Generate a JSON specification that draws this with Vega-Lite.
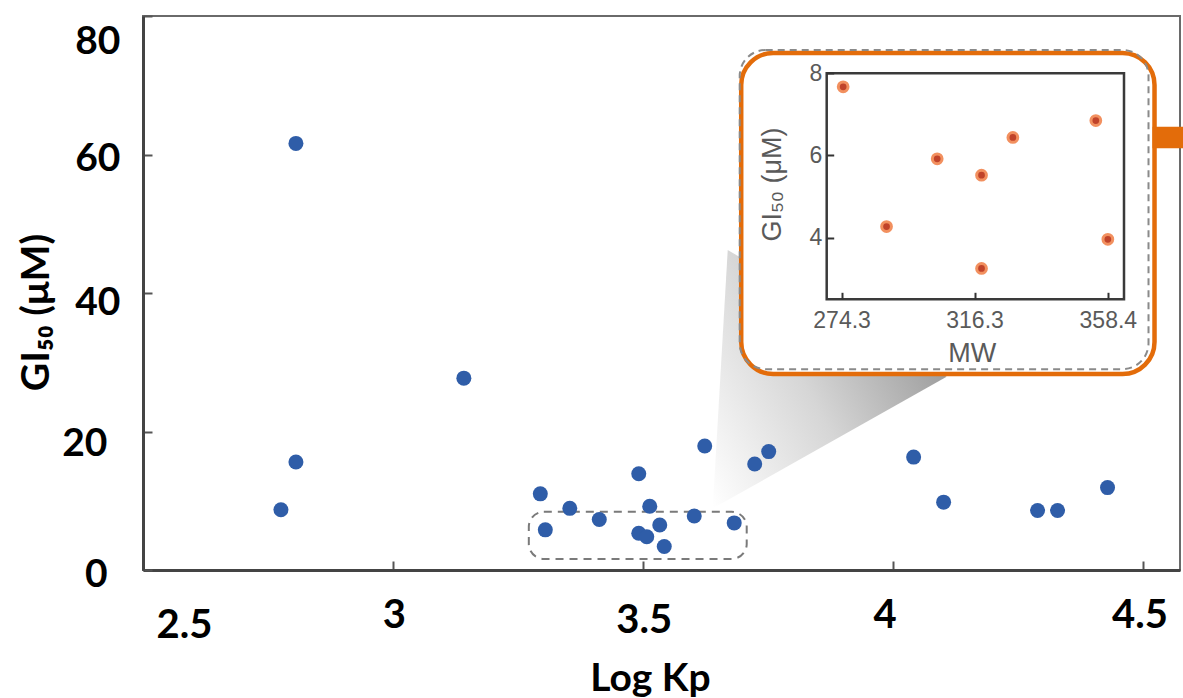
{
  "$schema": "https://vega.github.io/schema/vega-lite/v6.json",
  "width": 1037,
  "height": 554,
  "autosize": "none",
  "padding": {"left": 143, "top": 16, "right": 3, "bottom": 128},
  "background": "white",
  "config": {"view": {"stroke": "#6a6a6a", "strokeWidth": 2}, "axis": {"grid": false}},
  "datasets": {
    "main": [
      {"kp": 2.776, "gi": 8.7}, {"kp": 2.806, "gi": 61.6}, {"kp": 2.806, "gi": 15.6},
      {"kp": 3.142, "gi": 27.7}, {"kp": 3.295, "gi": 11.0}, {"kp": 3.305, "gi": 5.8},
      {"kp": 3.354, "gi": 8.9}, {"kp": 3.413, "gi": 7.3}, {"kp": 3.492, "gi": 13.9},
      {"kp": 3.514, "gi": 9.2}, {"kp": 3.492, "gi": 5.3}, {"kp": 3.508, "gi": 4.8},
      {"kp": 3.534, "gi": 6.5}, {"kp": 3.543, "gi": 3.4}, {"kp": 3.603, "gi": 7.8},
      {"kp": 3.683, "gi": 6.8}, {"kp": 3.624, "gi": 17.9}, {"kp": 3.724, "gi": 15.3},
      {"kp": 3.752, "gi": 17.1}, {"kp": 4.042, "gi": 16.3}, {"kp": 4.102, "gi": 9.8},
      {"kp": 4.290, "gi": 8.6}, {"kp": 4.330, "gi": 8.6}, {"kp": 4.430, "gi": 11.9}
    ],
    "inset": [
      {"mw": 274.8, "gi": 7.67}, {"mw": 288.5, "gi": 4.27}, {"mw": 304.5, "gi": 5.92},
      {"mw": 318.5, "gi": 5.52}, {"mw": 318.5, "gi": 3.25}, {"mw": 328.4, "gi": 6.44},
      {"mw": 354.6, "gi": 6.85}, {"mw": 358.4, "gi": 3.96}
    ],
    "frame": [{"mw": 269.6, "mw2": 363.5, "gi": 2.5, "gi2": 8}],
    "box": [{"kp": 3.272, "kp2": 3.708, "gi": 1.6, "gi2": 8.4}],
    "wedge": [
      {"kp": 3.64, "gi": 8.95, "gi2": 8.95},
      {"kp": 3.67, "gi": 46.2, "gi2": 10.1},
      {"kp": 4.108, "gi": 27.9, "gi2": 27.9}
    ],
    "orange": [{"kp": 3.697, "kp2": 4.524, "gi": 28.3, "gi2": 74.66}],
    "dashed": [{"kp": 3.694, "kp2": 4.512, "gi": 29.0, "gi2": 75.1}],
    "bar": [{"kp": 4.52, "kp2": 4.62, "gi": 60.9, "gi2": 64.0}]
  },
  "layer": [
    {
      "data": {"name": "wedge"},
      "mark": {"type": "area", "color": {"gradient": "linear", "x1": 0, "y1": 1, "x2": 1, "y2": 0.4, "stops": [{"offset": 0, "color": "#ffffff"}, {"offset": 0.5, "color": "#d6d6d6"}, {"offset": 1, "color": "#999999"}]}},
      "encoding": {
        "x": {"field": "kp", "type": "quantitative", "scale": {"domain": [2.5, 4.575], "nice": false, "zero": false}, "axis": null},
        "y": {"field": "gi", "type": "quantitative", "scale": {"domain": [0, 80], "nice": false, "zero": false}, "axis": null},
        "y2": {"field": "gi2"}
      }
    },
    {
      "data": {"name": "box"},
      "mark": {"type": "rect", "fill": "white", "fillOpacity": 0, "stroke": "#7a7a7a", "strokeWidth": 2, "strokeDash": [8, 6], "cornerRadius": 15},
      "encoding": {
        "x": {"field": "kp", "type": "quantitative", "scale": {"domain": [2.5, 4.575], "nice": false, "zero": false}, "axis": null},
        "x2": {"field": "kp2"},
        "y": {"field": "gi", "type": "quantitative", "scale": {"domain": [0, 80], "nice": false, "zero": false}, "axis": null},
        "y2": {"field": "gi2"}
      }
    },
    {
      "data": {"name": "main"},
      "mark": {"type": "circle", "size": 225, "color": "#2f5da8", "opacity": 1},
      "encoding": {
        "x": {
          "field": "kp", "type": "quantitative",
          "scale": {"domain": [2.5, 4.575], "nice": false, "zero": false},
          "axis": {
            "orient": "bottom",
            "title": "Log Kp", "values": [2.5, 3, 3.5, 4, 4.5], "format": "~g",
            "labelFont": "Lato", "labelFontWeight": "bold", "labelFontSize": 40, "labelColor": "#000",
            "labelBaseline": "alphabetic", "labelFlush": false, "labelOverlap": false,
            "labelPadding": {"condition": [{"test": "datum.value == 2.5", "value": 76}, {"test": "datum.value == 3.5", "value": 71}], "value": 66},
            "labelOffset": {"condition": [{"test": "datum.value == 2.5", "value": 41}, {"test": "datum.value == 4", "value": -8}, {"test": "datum.value == 4.5", "value": -3}], "value": 1},
            "tickSize": -9, "tickColor": "#555", "tickWidth": 2,
            "domainColor": "#444", "domainWidth": 3,
            "titleFont": "Lato", "titleFontWeight": "bold", "titleFontSize": 39, "titleColor": "#000",
            "titleX": 507, "titleY": 120, "titleBaseline": "alphabetic", "titleAlign": "center"
          }
        },
        "y": {
          "field": "gi", "type": "quantitative",
          "scale": {"domain": [0, 80], "nice": false, "zero": false},
          "axis": {
            "orient": "left",
            "title": "GI₅₀ (μM)", "values": [0, 20, 40, 60, 80], "format": "d",
            "labelFont": "Lato", "labelFontWeight": "bold", "labelFontSize": 39, "labelColor": "#000",
            "labelBaseline": "alphabetic", "labelAlign": "right", "labelFlush": false, "labelOverlap": false,
            "labelPadding": {"condition": {"test": "datum.value <= 20", "value": 45}, "value": 32},
            "labelOffset": {"condition": [{"test": "datum.value == 80", "value": 37}, {"test": "datum.value == 60", "value": 15.5}, {"test": "datum.value == 40", "value": 21}, {"test": "datum.value == 20", "value": 23.5}], "value": 16.5},
            "tickSize": -9, "tickColor": "#555", "tickWidth": 2,
            "domainColor": "#444", "domainWidth": 3,
            "titleFont": "Lato", "titleFontWeight": "bold", "titleFontSize": 39, "titleColor": "#000",
            "titleX": -95, "titleY": 296, "titleAngle": 270, "titleBaseline": "alphabetic", "titleAlign": "center"
          }
        }
      }
    },
    {
      "data": {"name": "orange"},
      "mark": {"type": "rect", "fill": "white", "stroke": "#e36c0a", "strokeWidth": 4.5, "cornerRadius": 32},
      "encoding": {
        "x": {"field": "kp", "type": "quantitative", "scale": {"domain": [2.5, 4.575], "nice": false, "zero": false}, "axis": null},
        "x2": {"field": "kp2"},
        "y": {"field": "gi", "type": "quantitative", "scale": {"domain": [0, 80], "nice": false, "zero": false}, "axis": null},
        "y2": {"field": "gi2"}
      }
    },
    {
      "data": {"name": "dashed"},
      "mark": {"type": "rect", "fill": "white", "fillOpacity": 0, "stroke": "#8a8a8a", "strokeWidth": 2, "strokeDash": [7, 5], "cornerRadius": 26},
      "encoding": {
        "x": {"field": "kp", "type": "quantitative", "scale": {"domain": [2.5, 4.575], "nice": false, "zero": false}, "axis": null},
        "x2": {"field": "kp2"},
        "y": {"field": "gi", "type": "quantitative", "scale": {"domain": [0, 80], "nice": false, "zero": false}, "axis": null},
        "y2": {"field": "gi2"}
      }
    },
    {
      "data": {"name": "bar"},
      "mark": {"type": "rect", "fill": "#e36c0a"},
      "encoding": {
        "x": {"field": "kp", "type": "quantitative", "scale": {"domain": [2.5, 4.575], "nice": false, "zero": false}, "axis": null},
        "x2": {"field": "kp2"},
        "y": {"field": "gi", "type": "quantitative", "scale": {"domain": [0, 80], "nice": false, "zero": false}, "axis": null},
        "y2": {"field": "gi2"}
      }
    },
    {
      "data": {"name": "frame"},
      "mark": {"type": "rect", "fill": "white", "fillOpacity": 0, "stroke": "#3a3a3a", "strokeWidth": 2.5},
      "encoding": {
        "x": {"field": "mw", "type": "quantitative", "scale": {"domain": [269.6, 363.5], "range": [683.7, 981], "nice": false, "zero": false}, "axis": null},
        "x2": {"field": "mw2"},
        "y": {"field": "gi", "type": "quantitative", "scale": {"domain": [2.5, 8], "range": [283.3, 57.3], "nice": false, "zero": false}, "axis": null},
        "y2": {"field": "gi2"}
      }
    },
    {
      "data": {"name": "inset"},
      "mark": {"type": "circle", "size": 95, "fill": "#c0432a", "stroke": "#f2905f", "strokeWidth": 3, "opacity": 1},
      "encoding": {
        "x": {
          "field": "mw", "type": "quantitative",
          "scale": {"domain": [269.6, 363.5], "range": [683.7, 981], "nice": false, "zero": false},
          "axis": {
            "orient": "bottom", "offset": -270.7, "zindex": 2,
            "values": [274.3, 316.3, 358.4], "format": ".1f", "title": "MW",
            "labelFont": "Liberation Sans", "labelFontSize": 23, "labelColor": "#5a5a5a",
            "labelBaseline": "alphabetic", "labelPadding": 35, "labelFlush": false, "labelOverlap": false,
            "tickSize": -7, "tickColor": "#333", "tickWidth": 2, "domain": false,
            "titleFont": "Liberation Sans", "titleFontSize": 27, "titleFontWeight": "normal", "titleColor": "#5a5a5a",
            "titleX": 828.7, "titleY": 62.4, "titleBaseline": "alphabetic", "titleAlign": "center"
          }
        },
        "y": {
          "field": "gi", "type": "quantitative",
          "scale": {"domain": [2.5, 8], "range": [283.3, 57.3], "nice": false, "zero": false},
          "axis": {
            "orient": "left", "offset": -683.7, "zindex": 2,
            "values": [4, 6, 8], "format": "d", "title": "GI₅₀ (μM)",
            "labelFont": "Liberation Sans", "labelFontSize": 23, "labelColor": "#5a5a5a",
            "labelPadding": 12, "labelBaseline": "middle", "labelFlush": false, "labelOverlap": false,
            "tickSize": -7, "tickColor": "#333", "tickWidth": 2, "domain": false,
            "titleFont": "Liberation Sans", "titleFontSize": 27, "titleFontWeight": "normal", "titleColor": "#5a5a5a",
            "titleX": -46.7, "titleY": 168, "titleAngle": 270, "titleBaseline": "alphabetic", "titleAlign": "center"
          }
        }
      }
    }
  ],
  "resolve": {"scale": {"x": "independent", "y": "independent"}, "axis": {"x": "independent", "y": "independent"}}
}
